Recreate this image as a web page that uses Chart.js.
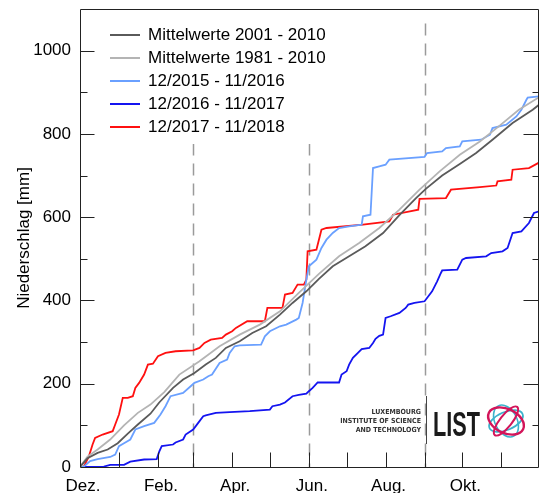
<!DOCTYPE html>
<html><head><meta charset="utf-8">
<script src="https://cdn.jsdelivr.net/npm/chart.js@4/dist/chart.umd.min.js"></script>
<style>html,body{margin:0;padding:0;background:#fff}</style>
</head><body>
<canvas id="c" width="540" height="493"></canvas>
<script>
// ---- data ----
const monthStarts = [0,31,62,90,121,151,182,212,243,274,304,335,365];
const monthLabels = ['Dez.','','Feb.','','Apr.','','Jun.','','Aug.','','Okt.','',''];
const dashedDays = [90,182,274];
const seriesNames = ['Mittelwerte 2001 - 2010','Mittelwerte 1981 - 2010','12/2015 - 11/2016','12/2016 - 11/2017','12/2017 - 11/2018'];

const mean0110Days = [0,6,14,22,30,38,46,56,63,74,82,91,100,108,116,127,137,148,159,169,180,190,201,214,227,241,254,267,275,288,302,315,328,344,360,365];
const mean0110Vals = [0,21,34,42,57,80,102,128,155,190,210,226,246,262,286,302,322,338,366,394,422,452,482,506,530,562,605,645,668,700,728,754,786,826,858,870];

const mean8110Days = [0,1,6,14,24,35,46,56,67,79,95,111,127,143,159,174,190,206,222,238,254,270,286,302,318,333,349,365];
const mean8110Vals = [0,5,25,42,66,100,130,150,180,222,254,290,318,342,374,418,464,506,538,574,618,666,710,750,782,818,858,888];

const y2016Days = [0,3,8,14,24,28,31,35,40,44,51,59,64,68,72,82,88,91,98,102,105,111,117,119,123,127,144,147,151,159,164,172,174,177,180,182,188,192,196,201,206,214,224,225,231,233,238,243,246,274,276,288,291,302,304,319,326,328,339,347,351,355,356,365];
const y2016Vals = [0,1,14,19,24,30,50,57,66,90,98,106,126,146,170,178,194,202,210,218,222,250,258,274,290,292,294,314,326,338,342,354,358,394,450,482,498,526,546,562,574,578,582,602,606,718,722,726,738,745,754,758,766,770,782,786,798,814,822,842,858,882,887,890];

const y2017Days = [0,19,24,35,40,51,61,63,65,74,76,82,84,90,94,98,100,108,119,135,151,153,159,163,169,174,180,182,185,189,206,208,212,214,217,221,224,230,233,235,238,241,243,247,254,259,261,266,274,280,284,287,288,300,304,307,323,327,336,340,344,351,357,361,365];
const y2017Vals = [0,1,5,5,13,18,19,37,50,54,59,66,78,90,106,122,124,130,132,134,138,146,150,155,170,173,176,182,190,203,203,222,230,246,262,274,283,286,298,308,315,318,358,362,370,382,390,394,398,422,446,466,472,474,498,502,506,514,518,526,562,566,586,610,614];

const y2018Days = [0,3,7,10,12,18,26,28,31,34,38,42,44,47,51,54,58,62,68,76,90,95,99,104,113,116,121,124,133,147,149,161,163,169,173,178,180,181,188,192,196,225,246,249,269,270,291,295,318,331,332,343,344,357,365];
const y2018Vals = [0,1,25,54,70,78,86,102,126,166,166,170,190,202,222,246,248,266,274,278,280,286,298,306,310,318,326,334,350,350,382,382,414,418,438,438,450,518,522,570,574,582,590,606,618,644,646,666,672,676,686,690,714,718,731];

const seriesColors = ['#5a5a5a','#b4b4b4','#6aa0ff','#1414f0','#ff1010'];
// ----------------

const FONT = '"Liberation Sans", Arial, sans-serif';
const pairs = (d, v) => d.map((x, i) => ({x: x, y: v[i]}));
const allDays = [mean0110Days, mean8110Days, y2016Days, y2017Days, y2018Days];
const allVals = [mean0110Vals, mean8110Vals, y2016Vals, y2017Vals, y2018Vals];

const datasets = seriesNames.map((n, i) => ({
  label: n,
  data: pairs(allDays[i], allVals[i]),
  borderColor: seriesColors[i],
  backgroundColor: seriesColors[i],
  borderWidth: 1.8,
  pointRadius: 0,
  tension: 0,
  fill: false
}));

const framePlugin = {
  id: 'frame',
  beforeDatasetsDraw(chart) {
    const {ctx, scales: {x, y}} = chart;
    ctx.save();
    ctx.strokeStyle = '#9a9a9a';
    ctx.lineWidth = 1.5;
    ctx.setLineDash([12, 8]);
    dashedDays.forEach(d => {
      const px = Math.round(x.getPixelForValue(d)) + 0.5;
      ctx.beginPath();
      ctx.moveTo(px, y.getPixelForValue(1065));
      ctx.lineTo(px, y.getPixelForValue(0));
      ctx.stroke();
    });
    ctx.restore();
  },
  afterDraw(chart) {
    const {ctx, chartArea: a, scales: {x, y}} = chart;
    ctx.save();
    ctx.setLineDash([]);
    // legend
    ctx.fillStyle = '#fff';
    ctx.fillRect(100, 18, 240, 126);
    chart.data.datasets.forEach((ds, i) => {
      const ry = 35 + i * 23;
      ctx.strokeStyle = ds.borderColor;
      ctx.lineWidth = 2;
      ctx.beginPath();
      ctx.moveTo(110, ry); ctx.lineTo(140, ry);
      ctx.stroke();
      ctx.fillStyle = '#000';
      ctx.font = '17px ' + FONT;
      ctx.textBaseline = 'middle';
      ctx.textAlign = 'left';
      ctx.fillText(ds.label, 148, ry);
    });

    // frame + inward ticks
    ctx.strokeStyle = '#222';
    ctx.lineWidth = 1;
    const L = Math.round(a.left) + 0.5, R = Math.round(a.right) - 0.5;
    const T = Math.round(a.top) + 0.5, B = Math.round(a.bottom) + 0.5;
    ctx.beginPath();
    ctx.rect(L, T, R - L, B - T);
    for (let v = 100; v < 1100; v += 100) {
      const py = Math.round(y.getPixelForValue(v)) + 0.5;
      const major = v % 200 === 0;
      ctx.moveTo(L, py); ctx.lineTo(L + (major ? 14 : 7), py);
      ctx.moveTo(R, py); ctx.lineTo(R - (major ? 15 : 6), py);
    }
    monthStarts.slice(1, -1).forEach(d => {
      const px = Math.round(x.getPixelForValue(d)) + 0.5;
      ctx.moveTo(px, B); ctx.lineTo(px, B - 15);
    });
    ctx.stroke();

    // logo
    ctx.fillStyle = '#333';
    ctx.font = 'bold 7px "DejaVu Sans Condensed", ' + FONT;
    ctx.textAlign = 'right';
    ctx.textBaseline = 'middle';
    ctx.fillText('LUXEMBOURG', 421, 412);
    ctx.fillText('INSTITUTE OF SCIENCE', 421, 421);
    ctx.fillText('AND TECHNOLOGY', 421, 430);
    ctx.strokeStyle = '#444';
    ctx.lineWidth = 1;
    ctx.beginPath(); ctx.moveTo(426.5, 396); ctx.lineTo(426.5, 444); ctx.stroke();
    ctx.save();
    ctx.translate(433, 436);
    ctx.scale(0.62, 1);
    ctx.fillStyle = '#1a1a1a';
    ctx.textAlign = 'left';
    ctx.textBaseline = 'alphabetic';
    ctx.font = 'bold 35px ' + FONT;
    ctx.fillText('LIST', 0, 0);
    ctx.restore();
    const cx = 506, cy = 421;
    const ell = (rx, ry, rot, col, w) => {
      ctx.strokeStyle = col; ctx.lineWidth = w;
      ctx.beginPath(); ctx.ellipse(cx, cy, rx, ry, rot, 0, Math.PI * 2); ctx.stroke();
    };
    ell(18, 9, -0.4, '#3bb3cc', 1.8);
    ell(17, 11, 1.1, '#3bb3cc', 1.6);
    ell(19, 12, 0.45, '#d3155a', 2.4);
    ell(18, 6, -0.9, '#d3155a', 2);
    ctx.restore();
  }
};

new Chart(document.getElementById('c'), {
  type: 'line',
  data: {datasets},
  options: {
    responsive: false,
    animation: false,
    devicePixelRatio: 1,
    layout: {padding: {top: 9, right: 1, left: 0, bottom: 0}},
    plugins: {legend: {display: false}, tooltip: {enabled: false}},
    scales: {
      x: {
        type: 'linear', min: 0, max: 365,
        afterBuildTicks: s => { s.ticks = monthStarts.map(v => ({value: v})); },
        afterFit: s => { s.height = 26; s.paddingLeft = 0; s.paddingRight = 0; },
        grid: {display: false, drawTicks: false},
        border: {display: false},
        ticks: {
          autoSkip: false, maxRotation: 0, padding: 9, labelOffset: 3,
          color: '#000', font: {family: FONT, size: 17},
          callback: v => monthLabels[monthStarts.indexOf(v)] || ''
        }
      },
      y: {
        type: 'linear', min: 0, max: 1100,
        afterFit: s => { s.width = 80; s.paddingTop = 0; s.paddingBottom = 0; },
        grid: {display: false, drawTicks: false},
        border: {display: false},
        ticks: {
          stepSize: 100, padding: 9, color: '#000', font: {family: FONT, size: 17},
          callback: v => (v % 200 === 0 ? String(v) : '')
        },
        title: {display: true, text: 'Niederschlag [mm]', color: '#000',
                font: {family: FONT, size: 17}, padding: {top: 14, bottom: 0}}
      }
    }
  },
  plugins: [framePlugin]
});
</script>
</body></html>
